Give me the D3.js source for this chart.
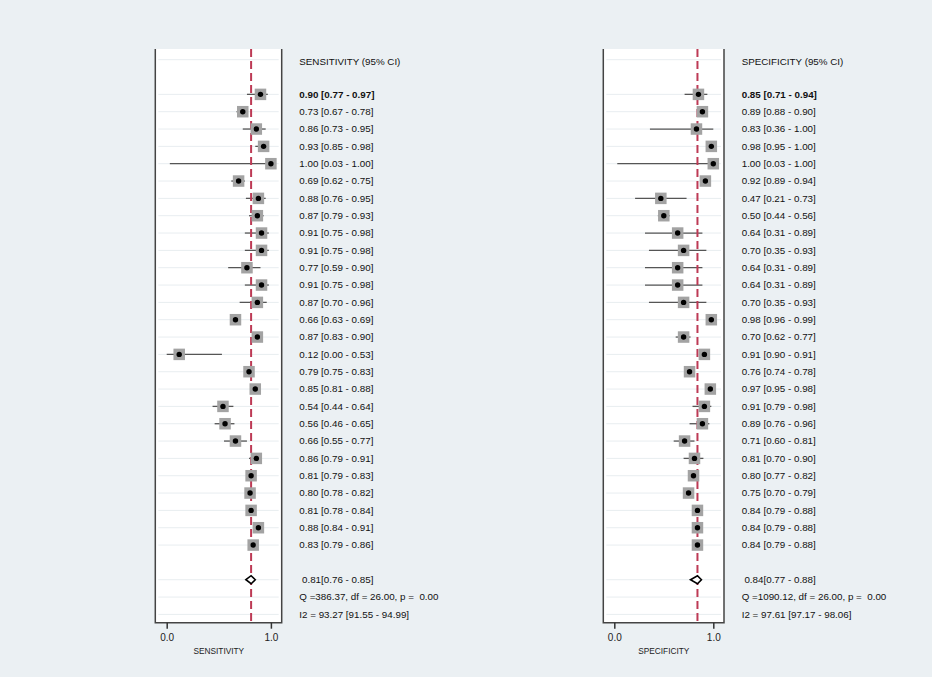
<!DOCTYPE html>
<html>
<head>
<meta charset="utf-8">
<script src="https://cdn.jsdelivr.net/npm/d3@7"></script>
<style>
  body { margin: 0; background: #ebf0f3; }
  text { font-family: "Liberation Sans", Arial, sans-serif; }
</style>
</head>
<body>
<div id="chart"></div>
<script>

// study estimates
var sensEst = [0.90, 0.73, 0.86, 0.93, 1.00, 0.69, 0.88, 0.87, 0.91, 0.91, 0.77, 0.91, 0.87, 0.66,
               0.87, 0.12, 0.79, 0.85, 0.54, 0.56, 0.66, 0.86, 0.81, 0.80, 0.81, 0.88, 0.83];
var sensLo  = [0.77, 0.67, 0.73, 0.85, 0.03, 0.62, 0.76, 0.79, 0.75, 0.75, 0.59, 0.75, 0.70, 0.63,
               0.83, 0.00, 0.75, 0.81, 0.44, 0.46, 0.55, 0.79, 0.79, 0.78, 0.78, 0.84, 0.79];
var sensHi  = [0.97, 0.78, 0.95, 0.98, 1.00, 0.75, 0.95, 0.93, 0.98, 0.98, 0.90, 0.98, 0.96, 0.69,
               0.90, 0.53, 0.83, 0.88, 0.64, 0.65, 0.77, 0.91, 0.83, 0.82, 0.84, 0.91, 0.86];

var specEst = [0.85, 0.89, 0.83, 0.98, 1.00, 0.92, 0.47, 0.50, 0.64, 0.70, 0.64, 0.64, 0.70, 0.98,
               0.70, 0.91, 0.76, 0.97, 0.91, 0.89, 0.71, 0.81, 0.80, 0.75, 0.84, 0.84, 0.84];
var specLo  = [0.71, 0.88, 0.36, 0.95, 0.03, 0.89, 0.21, 0.44, 0.31, 0.35, 0.31, 0.31, 0.35, 0.96,
               0.62, 0.90, 0.74, 0.95, 0.79, 0.76, 0.60, 0.70, 0.77, 0.70, 0.79, 0.79, 0.79];
var specHi  = [0.94, 0.90, 1.00, 1.00, 1.00, 0.94, 0.73, 0.56, 0.89, 0.93, 0.89, 0.89, 0.93, 0.99,
               0.77, 0.91, 0.78, 0.98, 0.98, 0.96, 0.81, 0.90, 0.82, 0.79, 0.88, 0.88, 0.88];

// pooled estimate [est, lo, hi]
var sensPooled = [0.81, 0.76, 0.85];
var specPooled = [0.84, 0.77, 0.88];

var sensStats = ["Q =386.37, df = 26.00, p =  0.00", "I2 = 93.27 [91.55 - 94.99]"];
var specStats = ["Q =1090.12, df = 26.00, p =  0.00", "I2 = 97.61 [97.17 - 98.06]"];

var xTicks = [0, 1];

var width = 932, height = 677;
var f2 = d3.format(".2f");

var svg = d3.select("#chart").append("svg")
    .attr("width", width)
    .attr("height", height);

svg.append("rect")
    .attr("width", width)
    .attr("height", height)
    .attr("fill", "#ebf0f3");

// rows: 0 header, 1 blank, 2..28 studies, 29 blank, 30 pooled, 31 Q, 32 I2
var y = d3.scaleLinear().domain([0, 32]).range([59.7, 614.4]);
var plotTop = 49, plotBottom = 622.7;

function drawPanel(p) {
    var x = d3.scaleLinear().domain([0, 1]).range([p.x0, p.x1]);
    var g = svg.append("g");

    g.append("rect")
        .attr("x", p.left)
        .attr("y", plotTop)
        .attr("width", p.right - p.left)
        .attr("height", plotBottom - plotTop)
        .attr("fill", "#ffffff");

    // grid lines on filled rows
    var rows = [0].concat(d3.range(2, 29)).concat([30, 31, 32]);
    g.selectAll(".grid").data(rows).enter().append("line")
        .attr("x1", p.left + 3)
        .attr("x2", p.right - 3)
        .attr("y1", function(d) { return y(d); })
        .attr("y2", function(d) { return y(d); })
        .attr("stroke", "#e8edf0")
        .attr("stroke-width", 1);

    var studies = p.est.map(function(d, i) {
        return {est: d, lo: p.lo[i], hi: p.hi[i], row: i + 2};
    });

    // CI lines
    g.selectAll(".ci").data(studies).enter().append("line")
        .attr("x1", function(d) { return x(d.lo); })
        .attr("x2", function(d) { return x(d.hi); })
        .attr("y1", function(d) { return y(d.row); })
        .attr("y2", function(d) { return y(d.row); })
        .attr("stroke", "#555555")
        .attr("stroke-width", 1.3);

    // reference line at pooled estimate
    g.append("line")
        .attr("x1", x(p.pooled[0]))
        .attr("x2", x(p.pooled[0]))
        .attr("y1", plotTop)
        .attr("y2", plotBottom)
        .attr("stroke", "#bd3a55")
        .attr("stroke-width", 2)
        .attr("stroke-dasharray", "8,4");

    var sq = 11.5;
    g.selectAll(".box").data(studies).enter().append("rect")
        .attr("x", function(d) { return x(d.est) - sq / 2; })
        .attr("y", function(d) { return y(d.row) - sq / 2; })
        .attr("width", sq)
        .attr("height", sq)
        .attr("fill", "#a3a3a3");

    g.selectAll(".dot").data(studies).enter().append("circle")
        .attr("cx", function(d) { return x(d.est); })
        .attr("cy", function(d) { return y(d.row); })
        .attr("r", 2.7)
        .attr("fill", "#000000");

    // pooled diamond
    var py = y(30);
    g.append("path")
        .attr("d", "M" + x(p.pooled[1]) + "," + py +
                   "L" + x(p.pooled[0]) + "," + (py - 4) +
                   "L" + x(p.pooled[2]) + "," + py +
                   "L" + x(p.pooled[0]) + "," + (py + 4) + "Z")
        .attr("fill", "#ffffff")
        .attr("stroke", "#000000")
        .attr("stroke-width", 1.6);

    // frame: left, right, bottom
    g.append("path")
        .attr("d", "M" + p.left + "," + plotTop + "V" + plotBottom + "H" + p.right + "V" + plotTop)
        .attr("fill", "none")
        .attr("stroke", "#444444")
        .attr("stroke-width", 1.5);

    var axis = d3.axisBottom(x).tickValues(xTicks).tickFormat(d3.format(".1f")).tickSize(6).tickPadding(5);
    var ax = g.append("g")
        .attr("transform", "translate(0," + plotBottom + ")")
        .call(axis);
    ax.select(".domain").remove();
    ax.selectAll(".tick line").attr("stroke", "#333").attr("stroke-width", 1.5);
    ax.selectAll(".tick text")
        .attr("font-size", "10px")
        .attr("fill", "#222")
        .style("font-family", "Liberation Sans, Arial, sans-serif");

    g.append("text")
        .attr("x", (x(0) + x(1)) / 2)
        .attr("y", 654)
        .attr("text-anchor", "middle")
        .attr("font-size", "8.3px")
        .attr("fill", "#222")
        .text(p.axisTitle);

    // text column
    var tg = g.append("g")
        .attr("font-size", "9.8px")
        .attr("fill", "#111");

    tg.append("text")
        .attr("x", p.textX)
        .attr("y", y(0) + 2)
        .attr("dy", "0.35em")
        .text(p.header);

    tg.selectAll(".lab").data(studies).enter().append("text")
        .attr("x", p.textX)
        .attr("y", function(d) { return y(d.row); })
        .attr("dy", "0.35em")
        .attr("font-weight", function(d, i) { return i === 0 ? "bold" : "normal"; })
        .text(function(d) { return f2(d.est) + " [" + f2(d.lo) + " - " + f2(d.hi) + "]"; });

    tg.append("text")
        .attr("x", p.textX + 2.7)
        .attr("y", y(30))
        .attr("dy", "0.35em")
        .text(f2(p.pooled[0]) + "[" + f2(p.pooled[1]) + " - " + f2(p.pooled[2]) + "]");

    tg.selectAll(".stat").data(p.stats).enter().append("text")
        .attr("x", p.textX)
        .attr("y", function(d, i) { return y(31 + i); })
        .attr("dy", "0.35em")
        .attr("xml:space", "preserve")
        .style("white-space", "pre")
        .text(function(d) { return d; });
}

drawPanel({
    left: 155.3, right: 281.7, x0: 166.7, x1: 270.9, textX: 299.3,
    est: sensEst, lo: sensLo, hi: sensHi, pooled: sensPooled, stats: sensStats,
    header: "SENSITIVITY (95% CI)", axisTitle: "SENSITIVITY"
});

drawPanel({
    left: 603.3, right: 724, x0: 614.3, x1: 713.3, textX: 741.7,
    est: specEst, lo: specLo, hi: specHi, pooled: specPooled, stats: specStats,
    header: "SPECIFICITY (95% CI)", axisTitle: "SPECIFICITY"
});

</script>
</body>
</html>
